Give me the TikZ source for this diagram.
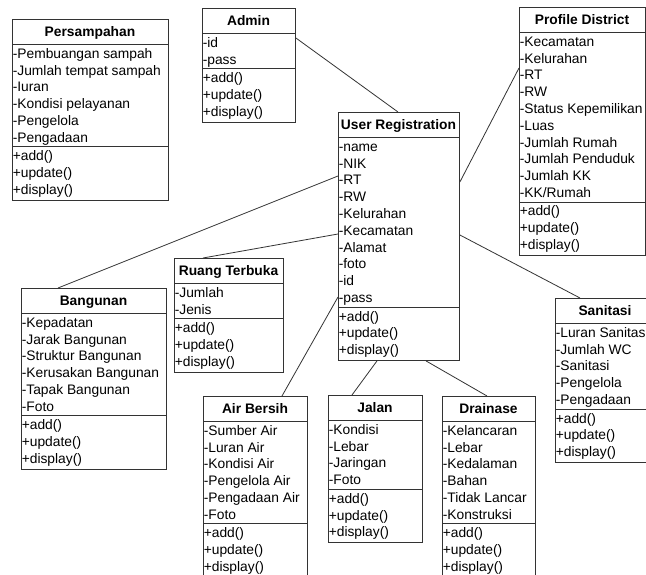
\documentclass[tikz,border=0pt]{standalone}
\usepackage{fontspec}
\setmainfont{Liberation Sans}
\usetikzlibrary{calc}
\tikzset{
  classbox/.style={draw=black!80, line width=0.9pt, inner sep=0pt, anchor=north west, fill=white},
  divline/.style={draw=black!80, line width=0.9pt},
  assoc/.style={draw=black!80, line width=0.8pt},
  itemtext/.style={inner sep=0.6pt, anchor=west, font=\fontsize{13.8}{16.8}\selectfont, text height=10pt, text depth=3pt},
  titletext/.style={inner sep=0pt, font=\fontsize{13.8}{16.8}\selectfont\bfseries, text height=10pt, text depth=3pt},
}
% #1 name, #2 x, #3 y, #4 width, #5 title, #6 number of attributes, #7 attributes
\newcommand\umlclass[7]{%
  \pgfmathsetmacro\hAttr{#6*16.8+2}%
  \pgfmathsetmacro\hTot{25+\hAttr+53}%
  \node[classbox, minimum width=#4pt, minimum height=\hTot pt] (#1) at (#2,#3) {};
  \node[titletext] (#1-title) at (#2+#4/2, #3+14) {#5};
  \draw[divline] (#2,#3+25) -- (#2+#4,#3+25);
  \draw[divline] (#2,#3+25+\hAttr) -- (#2+#4,#3+25+\hAttr);
  \foreach[count=\i] \t in {#7}{
    \node[itemtext] (#1-a\i) at (#2, #3+25+10.8+\i*16.8-16.8) {\t};
  }
  \foreach[count=\i] \t in {+add(),+update(),+display()}{
    \node[itemtext] (#1-m\i) at (#2, #3+25+\hAttr+10.5+\i*16.8-16.8) {\t};
  }
}
\begin{document}
\begin{tikzpicture}[x=1pt,y=-1pt]
\useasboundingbox (0,0) rectangle (646,575);
\fill[white] (0,0) rectangle (646,575);
\clip (0,0) rectangle (646,575);

\umlclass{pers}{12}{19}{156}{Persampahan}{6}{-Pembuangan sampah,-Jumlah tempat sampah,-Iuran,-Kondisi pelayanan,-Pengelola,-Pengadaan}
\umlclass{admin}{202}{8}{93}{Admin}{2}{-id,-pass}
\umlclass{prof}{519}{7}{126}{Profile District}{10}{-Kecamatan,-Kelurahan,-RT,-RW,-Status Kepemilikan,-Luas,-Jumlah Rumah,-Jumlah Penduduk,-Jumlah KK,-KK/Rumah}
\umlclass{user}{338}{112}{121}{User Registration}{10}{-name,-NIK,-RT,-RW,-Kelurahan,-Kecamatan,-Alamat,-foto,-id,-pass}
\umlclass{bang}{21}{288}{145}{Bangunan}{6}{-Kepadatan,-Jarak Bangunan,-Struktur Bangunan,-Kerusakan Bangunan,-Tapak Bangunan,-Foto}
\umlclass{ruang}{174}{258}{109}{Ruang Terbuka}{2}{-Jumlah,-Jenis}
\umlclass{sani}{555}{298}{100}{Sanitasi}{5}{-Luran Sanitasi,-Jumlah WC,-Sanitasi,-Pengelola,-Pengadaan}
\umlclass{air}{203}{396}{104}{Air Bersih}{6}{-Sumber Air,-Luran Air,-Kondisi Air,-Pengelola Air,-Pengadaan Air,-Foto}
\umlclass{jalan}{328}{395}{94}{Jalan}{4}{-Kondisi,-Lebar,-Jaringan,-Foto}
\umlclass{drain}{442}{396}{93}{Drainase}{6}{-Kelancaran,-Lebar,-Kedalaman,-Bahan,-Tidak Lancar,-Konstruksi}

\draw[assoc] ($(admin.north east)+(0,30)$) -- ($(user.north west)+(60,0)$);
\draw[assoc] ($(user.north east)+(0,70)$) -- ($(prof.north west)+(0,61)$);
\draw[assoc] ($(bang.north west)+(37,0)$) -- ($(user.north west)+(0,64)$);
\draw[assoc] ($(ruang.north west)+(29,0)$) -- ($(user.north west)+(0,122)$);
\draw[assoc] ($(air.north west)+(79,0)$) -- ($(user.north west)+(0,185)$);
\draw[assoc] ($(jalan.north west)+(24,0)$) -- ($(user.south west)+(39,0)$);
\draw[assoc] ($(drain.north west)+(45,0)$) -- ($(user.south west)+(88,0)$);
\draw[assoc] ($(sani.north west)+(25,0)$) -- ($(user.north east)+(0,123)$);
\end{tikzpicture}
\end{document}
